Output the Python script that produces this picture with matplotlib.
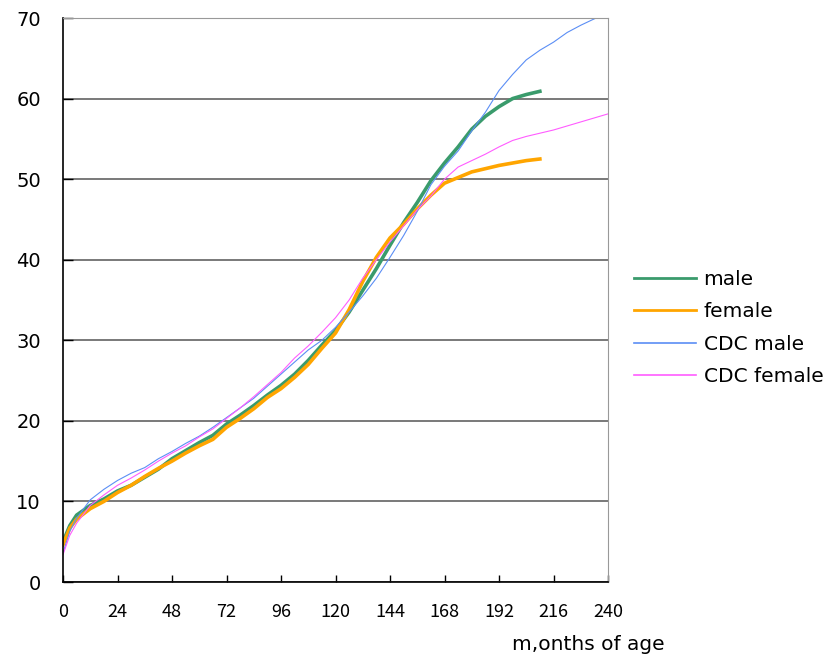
import matplotlib
matplotlib.use("Agg")
import matplotlib.pyplot as plt

# months of age for each series
months_obs = [0, 3, 6, 12, 18, 24, 30, 36, 42, 48, 54, 60, 66, 72, 78, 84, 90, 96,
              102, 108, 114, 120, 126, 132, 138, 144, 150, 156, 162, 168, 174, 180,
              186, 192, 198, 204, 210]
months_cdc = months_obs + [216, 222, 228, 234, 240]

male = [5.0, 7.0, 8.3, 9.5, 10.3, 11.3, 12.0, 13.0, 14.0, 15.3, 16.3, 17.3, 18.2,
        19.6, 20.7, 21.9, 23.2, 24.4, 25.8, 27.5, 29.4, 31.2, 33.5, 36.2, 38.9,
        41.8, 44.6, 47.1, 49.8, 52.0, 54.0, 56.2, 57.8, 59.0, 60.0, 60.5, 60.9]
female = [4.6, 6.7, 7.8, 9.1, 10.0, 11.1, 12.0, 13.1, 14.1, 15.0, 16.0, 16.9, 17.7,
          19.2, 20.3, 21.5, 22.9, 24.0, 25.4, 27.0, 29.0, 30.9, 33.8, 37.3, 40.3,
          42.7, 44.4, 46.3, 48.0, 49.5, 50.2, 50.9, 51.3, 51.7, 52.0, 52.3, 52.5]
cdc_male = [3.6, 6.3, 7.9, 10.2, 11.5, 12.6, 13.5, 14.2, 15.3, 16.2, 17.2, 18.1,
            19.2, 20.4, 21.6, 22.8, 24.3, 25.8, 27.3, 28.8, 30.0, 31.6, 33.5, 35.5,
            37.7, 40.3, 43.0, 46.0, 49.3, 51.6, 53.5, 56.0, 58.3, 61.0, 63.0, 64.8,
            66.0, 67.0, 68.2, 69.1, 69.9, 70.6]
cdc_female = [3.4, 5.8, 7.3, 9.5, 10.8, 12.0, 12.9, 13.9, 15.0, 16.0, 16.9, 18.0,
              19.0, 20.3, 21.6, 23.0, 24.5, 26.0, 27.8, 29.3, 31.0, 32.8, 35.0, 37.7,
              40.0, 42.2, 44.2, 46.2, 47.9, 50.0, 51.5, 52.3, 53.1, 54.0, 54.8, 55.3,
              55.7, 56.1, 56.6, 57.1, 57.6, 58.1]

xticks = list(range(0, 241, 24))
yticks = list(range(0, 71, 10))

plt.rcParams["font.family"] = ["DejaVu Sans"]

fig = plt.figure(figsize=(8.39, 6.61), dpi=100)
ax = fig.add_axes([63 / 839, 79 / 661, 545 / 839, 564 / 661])

ax.plot(months_obs, male, color="#3a9b6c", lw=2.6, label="male")
ax.plot(months_obs, female, color="#ffa500", lw=2.6, label="female")
ax.plot(months_cdc, cdc_male, color="#5b8ef5", lw=0.8, label="CDC male")
ax.plot(months_cdc, cdc_female, color="#ff5cff", lw=0.8, label="CDC female")

ax.set_xlim(0, 240)
ax.set_ylim(0, 70)
ax.set_xticks(xticks, labels=[str(t) for t in xticks],
              fontfamily=["Noto Sans CJK JP", "DejaVu Sans"], fontsize=13)
ax.set_yticks(yticks)
ax.yaxis.grid(True, color="#555555", lw=1.1)
ax.set_axisbelow(True)

ax.tick_params(axis="y", direction="in", length=7, width=1, pad=16, labelsize=14)
ax.tick_params(axis="x", direction="in", length=5, width=1, pad=15)

for side in ["top", "right"]:
    ax.spines[side].set_color("#999999")
ax.spines["left"].set_linewidth(1.2)
ax.spines["bottom"].set_linewidth(1.2)

fig.text(665 / 839, 17 / 661, "m,onths of age", ha="right", va="center", fontsize=14.5)

leg = fig.legend(loc="upper left", bbox_to_anchor=(626 / 839, 1 - 262 / 661),
                 frameon=False, fontsize=14.5, handlelength=3.1, handletextpad=0.35,
                 labelspacing=0.66, borderaxespad=0)
for line, w in zip(leg.get_lines(), [2.0, 2.0, 1.2, 1.2]):
    line.set_linewidth(w)

fig.savefig("out.png", dpi=100)
